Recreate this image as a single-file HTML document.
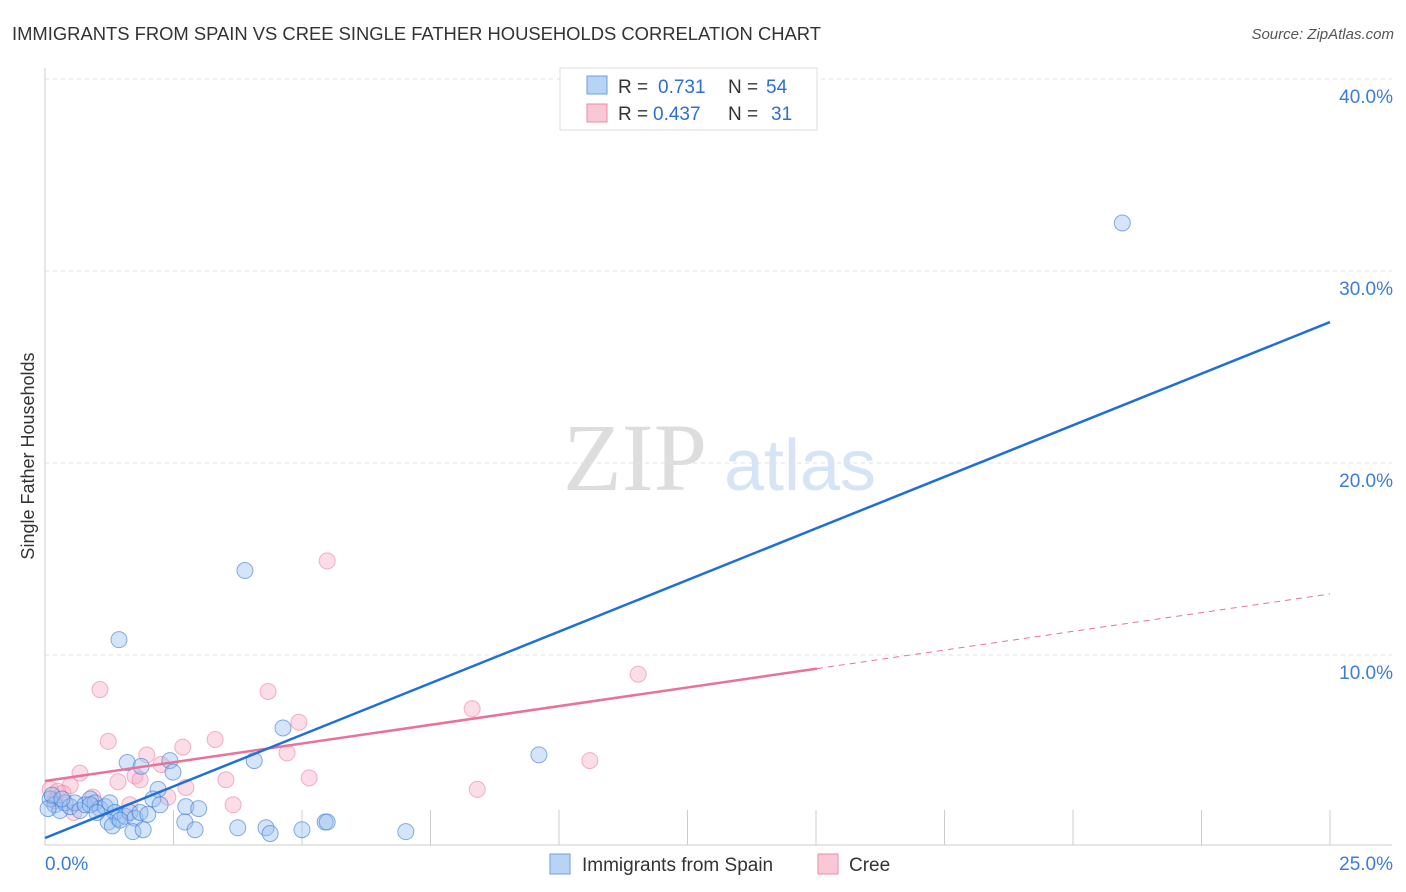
<!DOCTYPE html>
<html><head><meta charset="utf-8"><style>
body{margin:0;background:#fff;font-family:"Liberation Sans",sans-serif;}
svg{display:block}
</style></head><body>
<svg id="c" width="1406" height="892">
<text x="12" y="40" font-size="18.4" fill="#333">IMMIGRANTS FROM SPAIN VS CREE SINGLE FATHER HOUSEHOLDS CORRELATION CHART</text>
<text x="1394" y="39" font-size="15" fill="#555" font-style="italic" text-anchor="end">Source: ZipAtlas.com</text>
<text transform="translate(34,456) rotate(-90)" font-size="18" fill="#333" text-anchor="middle">Single Father Households</text>
<g><text x="635" y="490" font-size="96" fill="#ddd" text-anchor="middle" font-family="Liberation Serif,serif">ZIP</text><text x="800" y="490" font-size="72" fill="#d6e4f5" text-anchor="middle">atlas</text></g>
<g id="grid"></g><g id="marks"></g>
<g font-size="19">
<rect x="560" y="68" width="257" height="62" fill="#fff" stroke="#ddd"/>
<rect x="587" y="76" width="20" height="18" fill="#b8d4f5" stroke="#6a9fe0"/>
<text x="618" y="93" fill="#333">R =</text><text x="658" y="93" fill="#2b6fd6">0.731</text>
<text x="728" y="93" fill="#333">N =</text><text x="766" y="93" fill="#2b6fd6">54</text>
<rect x="587" y="104" width="20" height="18" fill="#f8c8d6" stroke="#ee8aa8"/>
<text x="618" y="120" fill="#333">R =</text><text x="653" y="120" fill="#2b6fd6">0.437</text>
<text x="728" y="120" fill="#333">N =</text><text x="771" y="120" fill="#2b6fd6">31</text>
</g>
<g>
<rect x="550" y="854" width="20" height="20" fill="#b8d4f5" stroke="#6a9fe0"/>
<text x="582" y="871" font-size="19" fill="#333">Immigrants from Spain</text>
<rect x="818" y="854" width="20" height="20" fill="#f8c8d6" stroke="#ee8aa8"/>
<text x="849" y="871" font-size="19" fill="#333">Cree</text>
</g>
</svg>
<script>
const yTicks=[10,20,30,40];
const xTicks=[2.5,5,7.5,10,12.5,15,17.5,20,22.5,25];
const blueX=[20.96,3.89,1.44,4.63,9.61,4.07,1.6,2.43,1.87,2.49,2.2,2.1,2.74,2.99,0.1,0.19,0.29,0.39,0.49,0.58,0.68,0.78,0.88,0.97,1.07,1.17,1.26,1.36,1.42,1.56,1.65,1.75,1.85,2.0,1.23,1.31,1.71,1.91,2.72,2.92,3.75,4.3,4.38,5.0,5.45,5.49,7.02,0.06,0.14,2.24,0.88,0.33,1.01,1.46];
const blueY=[32.5,14.4,10.8,6.2,4.8,4.5,4.4,4.5,4.2,3.9,3.0,2.5,2.1,2.0,2.5,2.2,1.9,2.3,2.1,2.3,1.9,2.2,2.5,2.3,2.0,2.1,2.3,1.8,1.5,1.6,1.8,1.5,1.8,1.7,1.3,1.1,0.8,0.9,1.3,0.9,1.0,1.0,0.7,0.9,1.3,1.3,0.8,2.0,2.7,2.2,2.2,2.5,1.8,1.4];
const pinkX=[5.49,11.54,1.07,4.34,8.31,4.94,1.23,2.68,3.31,1.98,4.71,2.26,0.68,1.75,1.42,3.52,5.14,2.74,10.6,8.41,0.49,0.1,0.25,0.93,3.66,2.39,1.65,1.85,0.35,0.19,0.56];
const pinkY=[14.9,9.0,8.2,8.1,7.2,6.5,5.5,5.2,5.6,4.8,4.9,4.3,3.85,3.7,3.4,3.5,3.6,3.1,4.5,3.0,3.2,3.0,2.9,2.6,2.2,2.6,2.2,3.5,2.8,2.4,1.8];
const blueLine=[0.47,27.34];
const pinkLine=[3.44,13.18];
const pinkSolidEnd=15.02;
const X=v=>45+v/25*1285, Y=v=>847-v*19.2;
const ns='http://www.w3.org/2000/svg';
function mk(p,t,a){const e=document.createElementNS(ns,t);for(const k in a)e.setAttribute(k,a[k]);p.appendChild(e);return e;}
const g=document.getElementById('grid'),m=document.getElementById('marks');
let e=mk(g,'line',{x1:45,y1:68,x2:45,y2:845,stroke:'#ccc'});


e=mk(g,'line',{x1:45,y1:845,x2:1392,y2:845,stroke:'#ccc'});


yTicks.forEach(t=>{
 e=mk(g,'line',{x1:45,y1:Y(t),x2:1392,y2:Y(t),stroke:'#e2e2e2','stroke-dasharray':'4,4'});
 
 
 e=mk(g,'text',{x:1393,y:Y(t)+24,'font-size':19,fill:'#3b7dd8','text-anchor':'end'});e.textContent=t.toFixed(1)+'%';
 
 
});
xTicks.forEach(t=>{
 e=mk(g,'line',{x1:X(t),y1:810,x2:X(t),y2:845,stroke:'#ccc'});
 
 
});
e=mk(g,'text',{x:45,y:870,'font-size':19,fill:'#3b7dd8'});e.textContent='0.0%';


e=mk(g,'text',{x:1393,y:870,'font-size':19,fill:'#3b7dd8','text-anchor':'end'});e.textContent='25.0%';


pinkX.forEach((x,i)=>{e=mk(m,'circle',{cx:X(x),cy:Y(pinkY[i]),r:8,fill:'rgba(244,170,195,0.4)',stroke:'rgba(236,130,165,0.6)'});
 
 });
blueX.forEach((x,i)=>{e=mk(m,'circle',{cx:X(x),cy:Y(blueY[i]),r:8,fill:'rgba(150,190,240,0.4)',stroke:'rgba(60,120,210,0.6)'});
 
 });
const pAt=x=>pinkLine[0]+(pinkLine[1]-pinkLine[0])*x/25;
e=mk(m,'line',{x1:X(pinkSolidEnd),y1:Y(pAt(pinkSolidEnd)),x2:X(25),y2:Y(pinkLine[1]),stroke:'#e8729a','stroke-width':1,'stroke-dasharray':'6,5'});


e=mk(m,'line',{x1:X(0),y1:Y(pinkLine[0]),x2:X(pinkSolidEnd),y2:Y(pAt(pinkSolidEnd)),stroke:'#e8729a','stroke-width':2.5});


e=mk(m,'line',{x1:X(0),y1:Y(blueLine[0]),x2:X(25),y2:Y(blueLine[1]),stroke:'#1f6fd8','stroke-width':2.5});


</script>
</body></html>
